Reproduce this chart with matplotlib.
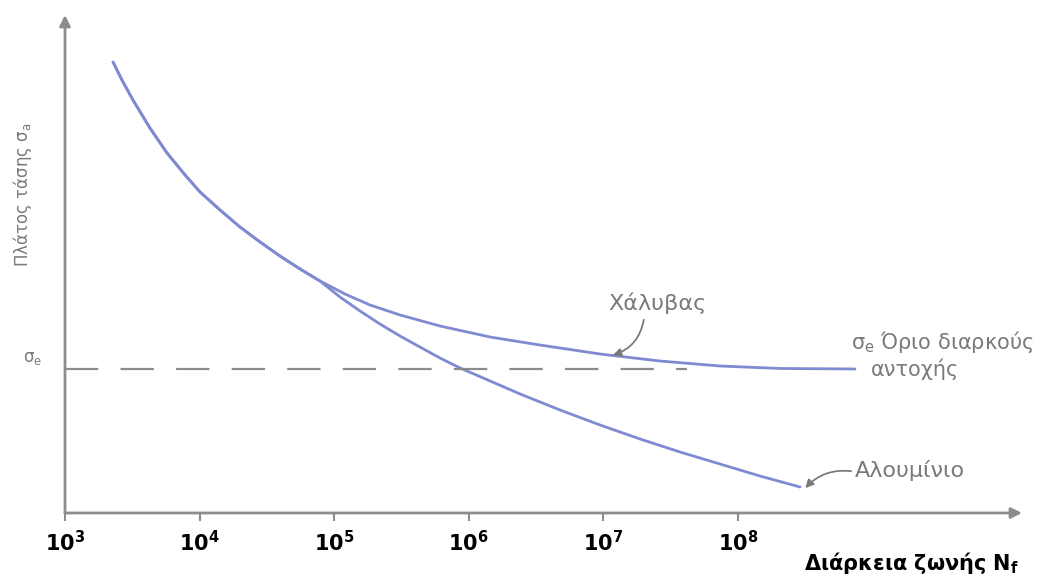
import numpy as np
import matplotlib
matplotlib.use("Agg")
import matplotlib.pyplot as plt

# decades of cycles N (log10) and stress amplitude (arbitrary units)
steel_logN = [3.357, 3.423, 3.505, 3.631, 3.758, 3.892, 4.003, 4.152, 4.300,
              4.449, 4.597, 4.746, 4.894, 5.080, 5.266, 5.489, 5.786, 6.158,
              6.529, 6.975, 7.420, 7.866, 8.312, 8.869]
steel_s = [90.56, 86.95, 82.93, 77.31, 72.29, 67.87, 64.46, 60.84, 57.43,
           54.42, 51.61, 49.00, 46.59, 43.98, 41.77, 39.76, 37.55, 35.34,
           33.73, 31.93, 30.52, 29.52, 29.02, 28.92]

alu_logN = [3.357, 3.423, 3.505, 3.631, 3.758, 3.892, 4.003, 4.152, 4.300,
            4.449, 4.597, 4.746, 4.894, 5.043, 5.192, 5.340, 5.489, 5.637,
            5.786, 5.935, 6.158, 6.381, 6.678, 6.975, 7.272, 7.569, 7.866,
            8.163, 8.461]
alu_s = [90.56, 86.95, 82.93, 77.31, 72.29, 67.87, 64.46, 60.84, 57.43,
         54.42, 51.61, 49.00, 46.59, 43.37, 40.56, 37.95, 35.54, 33.33,
         31.12, 29.12, 26.51, 23.90, 20.68, 17.67, 14.86, 12.25, 9.84,
         7.43, 5.22]

sigma_e = 28.9
endurance_logN = [3.0, 7.62]
decades = [3, 4, 5, 6, 7, 8]

curve_col = "#7f8ad0"
gray = "#8c8c8c"
text_gray = "#7a7a7a"

fig = plt.figure(figsize=(10.61, 5.79), dpi=100)
W, H = 1061, 579
ax = fig.add_axes([65 / W, 1 - 513 / H, (1022 - 65) / W, (513 - 15) / H])

ax.plot(np.power(10.0, steel_logN), steel_s, color=curve_col, lw=2.0,
        solid_capstyle="round", solid_joinstyle="round")
ax.plot(np.power(10.0, alu_logN), alu_s, color=curve_col, lw=2.0,
        solid_capstyle="round", solid_joinstyle="round")
ax.plot(np.power(10.0, endurance_logN), [sigma_e, sigma_e], color=gray, lw=1.6,
        dashes=(15, 10), dash_capstyle="butt")

ax.set_xscale("log")
ax.set_xlim(1e3, 10 ** 10.11)
ax.set_ylim(0, 100)
ax.minorticks_off()
ax.set_xticks([10.0 ** d for d in decades],
              [r"$\mathbf{10^{%d}}$" % d for d in decades])
ax.set_yticks([])
ax.tick_params(axis="x", direction="out", length=6, width=1.5, color=gray,
               labelsize=15, pad=6, labelcolor="black")
for s in ax.spines.values():
    s.set_visible(False)

# axes with arrow heads
ax.annotate("", xy=(1, 0), xytext=(0, 0), xycoords="axes fraction",
            arrowprops=dict(arrowstyle="-|>", color=gray, lw=2, mutation_scale=16,
                            shrinkA=0, shrinkB=0), annotation_clip=False)
ax.annotate("", xy=(0, 1), xytext=(0, 0), xycoords="axes fraction",
            arrowprops=dict(arrowstyle="-|>", color=gray, lw=2, mutation_scale=16,
                            shrinkA=0, shrinkB=0), annotation_clip=False)

# labels on the curves
ax.text(10 ** 7.40, 42.2, "Χάλυβας", color=text_gray, fontsize=16, ha="center", va="center")
ax.annotate("", xy=(10 ** 7.07, 31.7), xytext=(10 ** 7.30, 38.8),
            arrowprops=dict(arrowstyle="-|>", color=text_gray, lw=1.3, mutation_scale=12,
                            connectionstyle="arc3,rad=-0.3", shrinkA=0, shrinkB=0))

ax.text(10 ** 8.87, 8.6, "Αλουμίνιο", color=text_gray, fontsize=16, ha="left", va="center")
ax.annotate("", xy=(10 ** 8.50, 5.0), xytext=(10 ** 8.84, 8.4),
            arrowprops=dict(arrowstyle="-|>", color=text_gray, lw=1.3, mutation_scale=12,
                            connectionstyle="arc3,rad=0.25", shrinkA=0, shrinkB=0))

ax.text(10 ** 8.84, 34.3, r"$\mathregular{σ_e}$ Όριο διαρκούς", color=text_gray, fontsize=15,
        ha="left", va="center")
ax.text(10 ** 8.99, 28.9, "αντοχής", color=text_gray, fontsize=15, ha="left", va="center")

# y-axis texts
ax.text(-0.034, sigma_e + 2.3, r"$\mathregular{σ_e}$", color=text_gray, fontsize=12,
        ha="center", va="center", transform=ax.get_yaxis_transform())
fig.text(22 / W, 1 - 195 / H, r"Πλάτος τάσης $\mathregular{σ_a}$", color=text_gray,
         fontsize=12, rotation=90, ha="center", va="center")

fig.text(912 / W, 1 - 563 / H, r"Διάρκεια ζωνής $\mathbf{N_f}$", color="black",
         fontsize=15, fontweight="bold", ha="center", va="center")

fig.savefig("out.png", dpi=100)
